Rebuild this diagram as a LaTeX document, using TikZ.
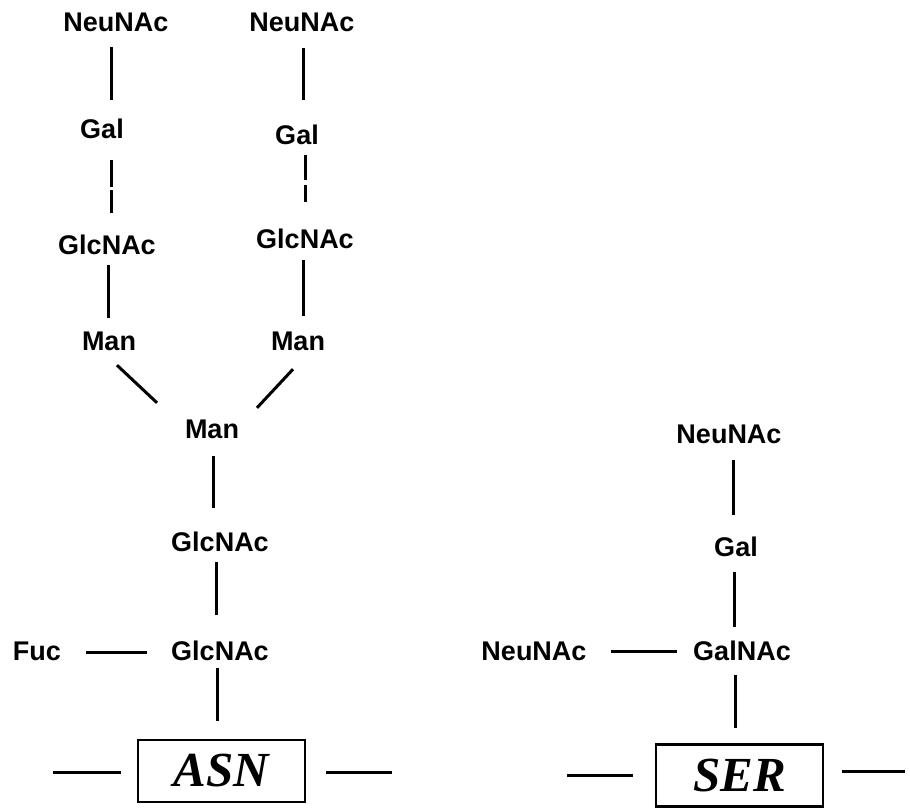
\documentclass[tikz,border=0pt]{standalone}
\usepackage{fontspec}
\setmainfont{Liberation Sans}
\newfontfamily\boxfont{Liberation Serif}
\begin{document}
\begin{tikzpicture}[x=1pt,y=-1pt,
  sugar/.style={font=\fontsize{27}{27}\selectfont\bfseries, inner sep=0pt, text height=19pt, text depth=0pt},
  link/.style={line width=3pt},
  aabox/.style={draw, line width=2.2pt, minimum width=167pt, minimum height=62pt, inner sep=0pt,
    font=\fontsize{49}{49}\selectfont\boxfont\bfseries\itshape}]
\useasboundingbox (0,0) rectangle (910,811);
% left (N-linked) tree
\node[sugar] (nl1) at (116,22) {NeuNAc};
\node[sugar] (nr1) at (302,22) {NeuNAc};
\node[sugar] (gal1) at (102,129) {Gal};
\node[sugar] (galr) at (297,135) {Gal};
\node[sugar] (glc1) at (107,245) {GlcNAc};
\node[sugar] (glcr) at (305,239) {GlcNAc};
\node[sugar] (man1) at (109,341) {Man};
\node[sugar] (manr) at (298,341) {Man};
\node[sugar] (manc) at (212,429) {Man};
\node[sugar] (glcm) at (220,542) {GlcNAc};
\node[sugar] (glcb) at (220,651) {GlcNAc};
\node[sugar] (fuc) at (37,651) {Fuc};
\node[aabox] (asn) at (221.5,771) {ASN};
\coordinate (asnL) at (53,772);
\coordinate (asnR) at (392,772);
% right (O-linked) tree
\node[sugar] (nt) at (729,434) {NeuNAc};
\node[sugar] (gals) at (736,547) {Gal};
\node[sugar] (galnac) at (742,651) {GalNAc};
\node[sugar] (nls) at (534,651) {NeuNAc};
\node[aabox] (ser) at (739.5,775.5) {SER};
\coordinate (serL) at (567,775.5);
\coordinate (serR) at (905,771);
% connectors, left tree
\draw[link] ([xshift=-5pt,yshift=-15.5pt]nl1.south) -- ([xshift=9pt,yshift=19.5pt]gal1.north);
\draw[link,dash pattern=on 27pt off 3pt] ([xshift=9pt,yshift=-21.5pt]gal1.south) -- ([xshift=4pt,yshift=22.5pt]glc1.north);
\draw[link] ([xshift=1pt,yshift=-10.5pt]glc1.south) -- ([xshift=-1pt,yshift=13.5pt]man1.north);
\draw[link] ([xshift=1pt,yshift=-16.5pt]nr1.south) -- ([xshift=6pt,yshift=25.5pt]galr.north);
\draw[link,dash pattern=on 25pt off 5pt] ([xshift=8pt,yshift=-10.5pt]galr.south) -- ([yshift=27.5pt]glcr.north);
\draw[link] ([xshift=-2pt,yshift=-11.5pt]glcr.south) -- ([xshift=5pt,yshift=15.5pt]manr.north);
\draw[link] ([xshift=8pt,yshift=-14.5pt]man1.south) -- ([xshift=-55pt,yshift=16.5pt]manc.north);
\draw[link] ([xshift=-5pt,yshift=-18.5pt]manr.south) -- ([xshift=45pt,yshift=11.5pt]manc.north);
\draw[link] ([xshift=1pt,yshift=-17.5pt]manc.south) -- ([xshift=-7pt,yshift=24.5pt]glcm.north);
\draw[link] ([xshift=-4pt,yshift=-10.5pt]glcm.south) -- ([xshift=-4pt,yshift=26.5pt]glcb.north);
\draw[link] ([xshift=24.5pt,yshift=-1pt]fuc.east) -- ([xshift=-24pt,yshift=-1pt]glcb.west);
\draw[link] ([xshift=-3pt,yshift=-7.5pt]glcb.south) -- ([xshift=-4.5pt,yshift=18pt]asn.north);
\draw[link] (asnL) -- ([xshift=-16pt,yshift=-1pt]asn.west);
\draw[link] ([xshift=20pt,yshift=-1pt]asn.east) -- (asnR);
% connectors, right tree
\draw[link] ([xshift=4pt,yshift=-16.5pt]nt.south) -- ([xshift=-3pt,yshift=22.5pt]gals.north);
\draw[link] ([xshift=-2pt,yshift=-15.5pt]gals.south) -- ([xshift=-8pt,yshift=14.5pt]galnac.north);
\draw[link] ([xshift=24.5pt]nls.east) -- ([xshift=-16pt]galnac.west);
\draw[link] ([xshift=-7pt,yshift=-14.5pt]galnac.south) -- ([xshift=-4.5pt,yshift=15pt]ser.north);
\draw[link] (serL) -- ([xshift=-22pt]ser.west);
\draw[link] ([xshift=18pt,yshift=4.5pt]ser.east) -- (serR);
\end{tikzpicture}
\end{document}
